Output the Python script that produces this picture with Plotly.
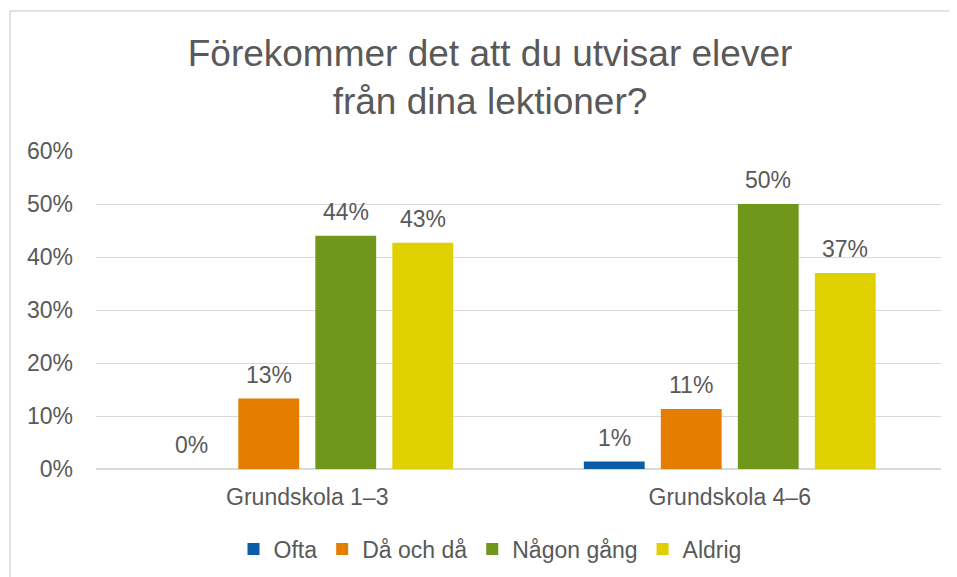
import plotly.graph_objects as go

categories = ["Grundskola 1–3", "Grundskola 4–6"]
series_names = ["Ofta", "Då och då", "Någon gång", "Aldrig"]
ofta = [0.0, 0.014]
da_och_da = [0.133, 0.113]
nagon_gang = [0.44, 0.50]
aldrig = [0.427, 0.37]
y_ticks = [0, 0.1, 0.2, 0.3, 0.4, 0.5, 0.6]
y_tick_labels = ["0%", "10%", "20%", "30%", "40%", "50%", "60%"]

colors = ["#0B5DA5", "#E47D00", "#70961A", "#E0D000"]
values = [ofta, da_och_da, nagon_gang, aldrig]
textcol = "#595959"
font_family = "Liberation Sans, Arial, sans-serif"
FS = 23
BARGAP = 0.271
BARGROUPGAP = 0.21

fig = go.Figure()
for name, vals, col in zip(series_names, values, colors):
    fig.add_trace(go.Bar(
        x=categories, y=vals, name=name,
        marker=dict(color=col, line=dict(width=0)),
    ))

# data labels placed over each bar (category index + group offset, at bar value)
n = len(series_names)
slot = (1 - BARGAP) / n
for i, vals in enumerate(values):
    for j, v in enumerate(vals):
        fig.add_annotation(
            x=j + (i - (n - 1) / 2) * slot, y=v, xref="x", yref="y",
            text=f"{round(v * 100):.0f}%", showarrow=False,
            yanchor="middle", xanchor="center", yshift=24,
            font=dict(size=FS, color=textcol, family=font_family),
        )

# page is offset by 8px body margin; figure coords = screen coords - 8
W, H = 949, 569
l, r, t, b = 88, 16, 143, 108
pw = W - l - r
ph = H - t - b

def px_x(x):
    return (x - l) / pw

def px_y(y):
    return (H - b - y) / ph

fig.add_shape(type="rect", xref="paper", yref="paper",
              x0=px_x(2), x1=px_x(980), y0=px_y(3), y1=px_y(600),
              line=dict(color="#D9D9D9", width=1.5), fillcolor="rgba(0,0,0,0)", layer="below")

fig.update_layout(
    width=W, height=H,
    margin=dict(l=l, r=r, t=t, b=b, autoexpand=False),
    paper_bgcolor="white", plot_bgcolor="white",
    barmode="group", bargap=BARGAP, bargroupgap=BARGROUPGAP,
    title=dict(text="Förekommer det att du utvisar elever<br>från dina lektioner?",
               x=482 / W, xanchor="center", y=1 - 58 / H, yanchor="middle",
               font=dict(size=37, color=textcol, family=font_family)),
    font=dict(family=font_family, color=textcol, size=FS),
    legend=dict(orientation="h", x=482 / W, xref="container", xanchor="center",
                y=1 - 541 / H, yref="container", yanchor="middle",
                font=dict(size=FS, color=textcol), itemwidth=30, tracegroupgap=0),
    xaxis=dict(showgrid=False, showline=False, ticks="", ticklabelstandoff=12,
               tickfont=dict(size=FS, color=textcol)),
    yaxis=dict(range=[0, 0.6], tickvals=y_ticks, ticktext=y_tick_labels,
               showgrid=True, gridcolor="#D9D9D9", gridwidth=1,
               zeroline=True, zerolinecolor="#D9D9D9", zerolinewidth=1.5,
               showline=False, ticks="", ticklabelstandoff=22,
               tickfont=dict(size=FS, color=textcol)),
    showlegend=True,
)

fig.write_html("out.html")
